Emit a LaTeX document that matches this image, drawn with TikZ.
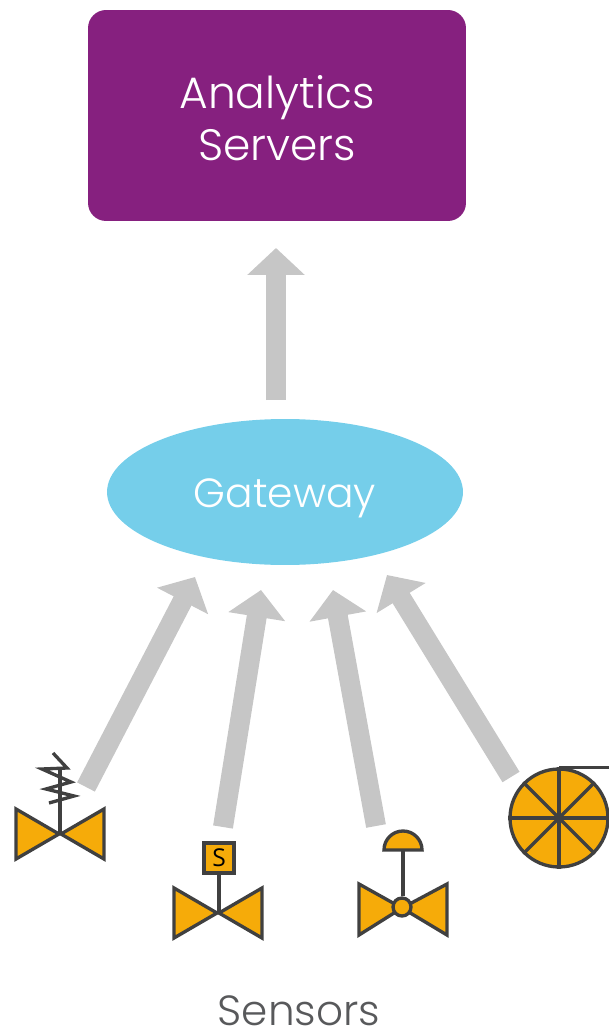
\documentclass[tikz,border=0pt]{standalone}
\usepackage{fontspec}
\setmainfont{Poppins Light}
\newfontfamily\labelfont{Open Sans}
\usepackage{xcolor}
\usetikzlibrary{shapes.geometric,arrows.meta,positioning}
\definecolor{serverpurple}{HTML}{86207F}
\definecolor{gatewayblue}{HTML}{75CEEA}
\definecolor{valveorange}{HTML}{F6AB09}
\definecolor{flowgray}{HTML}{C6C6C6}
\definecolor{linegray}{HTML}{404040}
\definecolor{textgray}{HTML}{58595B}
\tikzset{
  flowarrow/.style={draw=flowgray, line width=0.4cm, -{Triangle[length=0.54cm,width=1.12cm,fill=flowgray]}},
  valvepart/.style={draw=linegray, fill=valveorange, line width=1.9pt, line join=miter},
  stemline/.style={draw=linegray, line width=1.9pt}
}

\begin{document}
\begin{tikzpicture}[x=0.02cm, y=-0.02cm]
        \useasboundingbox (0,0) rectangle (608,1030);
        % Servers
        \node[fill=serverpurple, text=white, minimum width=7.56cm, minimum height=4.22cm, rounded corners=0.36cm, align=center, font=\fontsize{25}{29.5}\selectfont] (servers) at (277,115.5) {\rule{0pt}{22pt}Analytics\\Servers};
        % Gateway
        \node[ellipse, fill=gatewayblue, text=white, minimum width=7.12cm, minimum height=2.92cm, inner sep=0pt, text height=20pt, text depth=2pt, font=\fontsize{23.2}{28}\selectfont] (gateway) at (285,492) {Gateway};
        % Sensors label
        \node[anchor=base, inner sep=0pt, text depth=0pt, text=textgray, font=\fontsize{24}{28}\selectfont] (sensors) at (299,1025) {Sensors};

        % Arrow ends
        \coordinate (uptail) at (276,400);
        \coordinate (uptip) at (276,248);
        \coordinate (springtail) at (86,787);
        \coordinate (springtip) at (195,577);
        \coordinate (solenoidtail) at (223,827);
        \coordinate (solenoidtip) at (261,590);
        \coordinate (diaphragmtail) at (376,826);
        \coordinate (diaphragmtip) at (333,590);
        \coordinate (wheeltail) at (511,777);
        \coordinate (wheeltip) at (387,575);

        \draw[flowarrow] (uptail) -- (uptip);
        \draw[flowarrow] (springtail) -- (springtip);
        \draw[flowarrow] (solenoidtail) -- (solenoidtip);
        \draw[flowarrow] (diaphragmtail) -- (diaphragmtip);
        \draw[flowarrow] (wheeltail) -- (wheeltip);

        % Spring valve
        \draw[stemline] (60,834) -- (60,767);
        \draw[stemline] (53,753) -- (67,768) -- (42,769) -- (71,782) -- (46,789) -- (74,796) -- (49,803);
        \draw[valvepart] (16,809) -- (16,859) -- (59,834) -- cycle;
        \draw[valvepart] (104,809) -- (104,859) -- (61,834) -- cycle;

        % Solenoid valve
        \node[valvepart, minimum size=0.6cm, inner sep=0pt, text=black, font=\labelfont\fontsize{14}{16}\selectfont] (solenoid) at (219,858) {S};
        \coordinate (solenoidjoint) at (219,913);
        \draw[stemline] (solenoid) -- (solenoidjoint);
        \draw[valvepart] (174,888) -- (174,938) -- (217,913) -- cycle;
        \draw[valvepart] (262,888) -- (262,938) -- (219,913) -- cycle;

        % Diaphragm valve
        \draw[valvepart] (359,884) -- (359,935) -- (402,908) -- cycle;
        \draw[valvepart] (447,884) -- (447,935) -- (402,908) -- cycle;
        \node[valvepart, circle, minimum size=0.36cm, inner sep=0pt] (hub) at (402,907) {};
        \coordinate (domebase) at (403,850);
        \draw[stemline] (domebase) -- (hub.north -| domebase);
        \draw[valvepart] (384,850) arc[start angle=180, end angle=360, radius=19] -- cycle;

        % Wheel
        \node[valvepart, circle, minimum size=1.96cm, inner sep=0pt] (wheel) at (559,818) {};
        \draw[stemline] (wheel.north) -- (wheel.south);
        \draw[stemline] (wheel.west) -- (wheel.east);
        \draw[stemline] (wheel.45) -- (wheel.225);
        \draw[stemline] (wheel.135) -- (wheel.315);
        \coordinate (wheelout) at (610,768);
        \draw[stemline] (wheel.north) -- (wheel.north -| wheelout);
    \end{tikzpicture}
\end{document}
